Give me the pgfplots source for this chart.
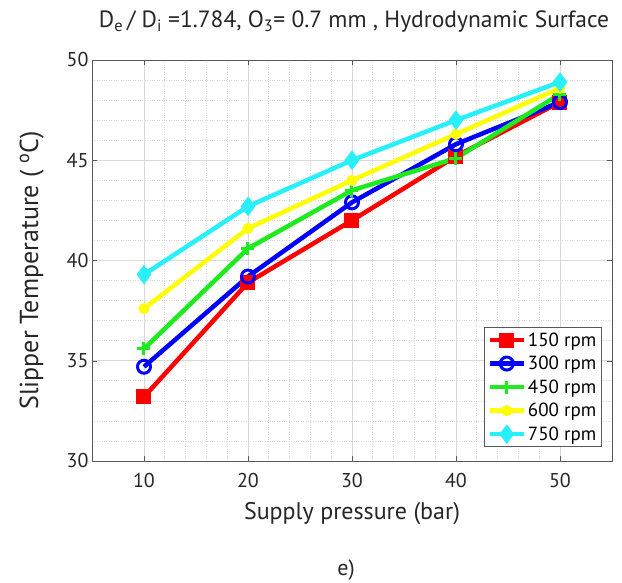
\documentclass[border=0pt]{standalone}
\usepackage{fontspec}
\setmainfont{PT Sans}
\usepackage{pgfplots}
\pgfplotsset{compat=1.18}
\definecolor{cgreen}{RGB}{30,235,30}
\definecolor{cyel}{RGB}{255,255,0}
\definecolor{ccyan}{RGB}{40,240,250}
\begin{document}
\begin{tikzpicture}
\begin{axis}[
  scale only axis, width=520pt, height=401pt,
  xmin=5, xmax=55, ymin=30, ymax=50,
  xtick={10,20,30,40,50}, ytick={30,35,40,45,50},
  minor x tick num=4, minor y tick num=4,
  grid=both,
  major grid style={gray!30, line width=0.6pt},
  minor grid style={gray!30, dotted, line width=0.6pt},
  axis line style={gray!70!black, line width=0.6pt},
  tick style={gray!70!black},
  major tick length=5pt, minor tick length=0pt,
  /pgf/number format/assume math mode=true,
  tick label style={font=\fontsize{20}{22}\selectfont, text=black!85},
  xticklabel style={yshift=-9pt},
  xlabel={Supply pressure (bar)},
  ylabel={Slipper Temperature ( $^{\mathrm{o}}$C)},
  xlabel style={font=\fontsize{24}{26}\selectfont, text=black!85, yshift=-8pt},
  ylabel style={font=\fontsize{26}{28}\selectfont, text=black!85, yshift=16pt, xshift=-10pt},
  legend style={at={(rel axis cs:0.98,0.035)}, anchor=south east,
    font=\fontsize{19}{21}\selectfont, draw=gray!70!black, line width=0.6pt,
    row sep=4.5pt, inner sep=3pt},
  legend cell align=left,
  legend image code/.code={\draw[mark repeat=2,mark phase=2] plot coordinates {(0pt,0pt) (17pt,0pt) (34pt,0pt)};},
  every axis plot/.append style={line width=4.5pt},
]
\addplot[red, mark=square*, mark size=7pt, mark options={line width=1pt}] coordinates {(10,33.2) (20,38.9) (30,42.0) (40,45.2) (50,47.9)};
\addlegendentry{150 rpm}
\addplot[blue, mark=o, mark size=6.5pt, mark options={line width=3pt}] coordinates {(10,34.7) (20,39.2) (30,42.9) (40,45.8) (50,47.9)};
\addlegendentry{300 rpm}
\addplot[cgreen, mark=+, mark size=6.5pt, mark options={line width=3pt}] coordinates {(10,35.6) (20,40.6) (30,43.5) (40,45.1) (50,48.3)};
\addlegendentry{450 rpm}
\addplot[cyel, mark=*, mark size=5pt, mark options={line width=1pt}] coordinates {(10,37.6) (20,41.6) (30,44.0) (40,46.3) (50,48.6)};
\addlegendentry{600 rpm}
\addplot[ccyan, mark=diamond*, mark size=9pt, mark options={line width=1pt}] coordinates {(10,39.3) (20,42.7) (30,45.0) (40,47.0) (50,48.9)};
\addlegendentry{750 rpm}
\end{axis}
\node[anchor=base, font=\fontsize{23.5}{25}\selectfont, text=black!85] at (262pt,433pt)
  {D\textsubscript{e}\,/ D\textsubscript{i} =1.784, O\textsubscript{3}= 0.7 mm , Hydrodynamic Surface};
\node[font=\fontsize{22}{24}\selectfont, text=black!85] at (254pt,-109pt) {e)};
\pgfresetboundingbox
\useasboundingbox (-92pt,-122pt) rectangle (530pt,461pt);
\end{tikzpicture}
\end{document}
